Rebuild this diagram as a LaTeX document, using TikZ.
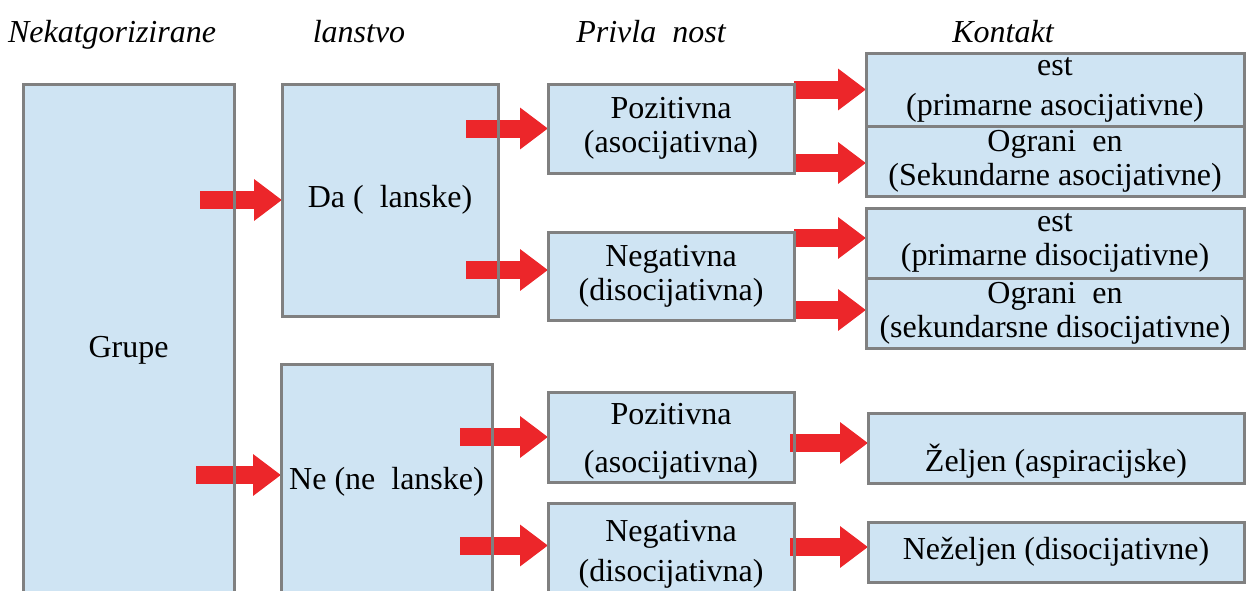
\documentclass[tikz,border=0pt]{standalone}
\usepackage{fontspec}
\setmainfont{Liberation Serif}
\usetikzlibrary{arrows.meta}
\definecolor{boxblue}{RGB}{207,228,243}
\definecolor{boxgray}{RGB}{128,128,128}
\definecolor{arrred}{RGB}{236,38,42}
\begin{document}
\begin{tikzpicture}[x=0.5pt,y=-0.5pt,
  box/.style={fill=boxblue,draw=boxgray,line width=1.5pt,outer sep=0pt,inner sep=2pt,
    align=center,font=\fontsize{16}{17}\selectfont},
  edge/.style={draw=boxgray,line width=1.5pt},
  head/.style={anchor=base,font=\itshape\fontsize{16}{17}\selectfont},
  redarrow/.style={arrred,line width=9pt,-{Triangle[length=14pt,width=20pt]}}]
  \useasboundingbox (0,0) rectangle (1246,590);
  \clip (0,0) rectangle (1246,590);
  % column heads
  \node[head] (h1) at (112,42) {Nekatgorizirane};
  \node[head] (h2) at (359,42) {lanstvo};
  \node[head] (h3) at (651,42) {Privla~~nost};
  \node[head] (h4) at (1003,42) {Kontakt};
  % boxes
  \node[box,minimum width=105.5pt,minimum height=266pt] (grupe) at (128.5,350) {Grupe};
  \node[box,minimum width=108pt,minimum height=116pt] (da) at (390,200) {Da (~~lanske)};
  \node[box,minimum width=105.5pt,minimum height=118pt] (ne) at (386.5,482) {Ne (ne~~lanske)};
  \node[box,minimum width=123pt,minimum height=44.5pt] (pos1) at (671,128.5) {Pozitivna\\(asocijativna)};
  \node[box,minimum width=123pt,minimum height=44pt] (neg1) at (671,276) {Negativna\\(disocijativna)};
  \node[box,minimum width=123pt,minimum height=45pt,inner ysep=0pt] (pos2) at (671,437) {\rule{0pt}{15pt}Pozitivna\\[7pt](asocijativna)};
  \node[box,minimum width=123pt,minimum height=48.5pt] (neg2) at (671,551.5) {\rule{0pt}{13pt}Negativna\\[3pt](disocijativna)};
  \node[box,minimum width=189pt,minimum height=36.5pt] (est1) at (1055,89.5) {est\\[3pt](primarne asocijativne)};
  \node[box,minimum width=189pt,minimum height=35pt] (ogr1) at (1055,161) {Ograni~~en\\(Sekundarne asocijativne)};
  \node[box,minimum width=189pt,minimum height=35pt] (est2) at (1055,243) {est\\(primarne disocijativne)};
  \node[box,minimum width=189pt,minimum height=35pt] (ogr2) at (1055,313) {Ograni~~en\\(sekundarsne disocijativne)};
  \node[box,minimum width=188pt,minimum height=33pt,text height=27pt,text depth=4pt] (zel) at (1056,448) {Željen (aspiracijske)};
  \node[box,minimum width=188pt,minimum height=30pt] (nezel) at (1056,552) {Neželjen (disocijativne)};
  % arrows
  \draw[redarrow,shorten <=-17pt] (da.west -| grupe.east) -- (da.west);
  \draw[redarrow,shorten <=-19pt] ([yshift=3.5pt]ne.west -| grupe.east) -- ([yshift=3.5pt]ne.west);
  \draw[redarrow,shorten <=-16pt] (pos1.west -| da.east) -- (pos1.west);
  \draw[redarrow,shorten <=-16pt] ([yshift=3pt]neg1.west -| da.east) -- ([yshift=3pt]neg1.west);
  \draw[redarrow,shorten <=-16pt] (pos2.west -| ne.east) -- (pos2.west);
  \draw[redarrow,shorten <=-16pt] ([yshift=3pt]neg2.west -| ne.east) -- ([yshift=3pt]neg2.west);
  \draw[redarrow] (est1.west -| pos1.east) -- (est1.west);
  \draw[redarrow] ([yshift=-1pt]ogr1.west -| pos1.east) -- ([yshift=-1pt]ogr1.west);
  \draw[redarrow] ([yshift=2.5pt]est2.west -| neg1.east) -- ([yshift=2.5pt]est2.west);
  \draw[redarrow] ([yshift=1.5pt]ogr2.west -| neg1.east) -- ([yshift=1.5pt]ogr2.west);
  \draw[redarrow,shorten <=-2pt] ([yshift=2.5pt]zel.west -| pos2.east) -- ([yshift=2.5pt]zel.west);
  \draw[redarrow,shorten <=-2pt] ([yshift=2.5pt]nezel.west -| neg2.east) -- ([yshift=2.5pt]nezel.west);
  % borders over the arrows
  \foreach \n in {grupe,da,ne,pos1,neg1,pos2,neg2,est1,ogr1,est2,ogr2,zel,nezel}
    \draw[edge] (\n.south west) rectangle (\n.north east);
\end{tikzpicture}
\end{document}
